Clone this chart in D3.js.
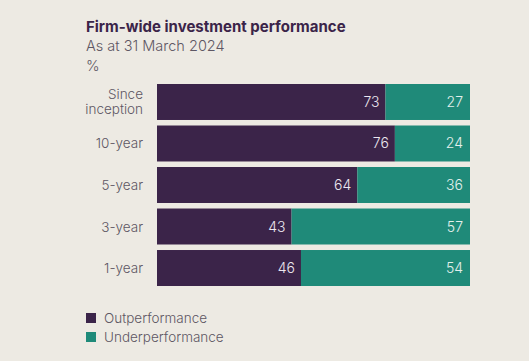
<!DOCTYPE html>
<html>
<head>
    <script src="https://d3js.org/d3.v7.min.js"></script>
    <style>
        body { margin: 0; background: #edeae3; }
        text { font-family: Inter, "Noto Sans", sans-serif; }
    </style>
</head>
<body>
    <script>
        // Data
        var categories = ["Since inception", "10-year", "5-year", "3-year", "1-year"];
        var outperformance = [73, 76, 64, 43, 46];
        var underperformance = [27, 24, 36, 57, 54];
        var seriesNames = ["Outperformance", "Underperformance"];
        var colors = ["#3b2449", "#1f8a79"];

        var width = 529, height = 361;

        var svg = d3.select("body")
            .append("svg")
            .attr("width", width)
            .attr("height", height);

        svg.append("rect")
            .attr("width", width)
            .attr("height", height)
            .attr("fill", "#edeae3");

        // Titles
        svg.append("text")
            .attr("x", 86).attr("y", 32)
            .style("font-size", "15px").style("font-weight", 700)
            .style("fill", "#3b2449")
            .text("Firm-wide investment performance");
        svg.append("text")
            .attr("x", 86).attr("y", 51)
            .style("font-size", "14.5px").style("font-weight", 300)
            .style("fill", "#5e5764")
            .text("As at 31 March 2024");
        svg.append("text")
            .attr("x", 86).attr("y", 71)
            .style("font-size", "14.5px").style("font-weight", 300)
            .style("fill", "#5e5764")
            .text("%");

        var x = d3.scaleLinear().domain([0, 100]).range([157, 470]);
        var y = d3.scaleBand().domain(categories).range([84, 286]).paddingInner(0.133).paddingOuter(0);

        var rows = svg.selectAll("g.row")
            .data(categories)
            .enter()
            .append("g")
            .attr("class", "row");

        rows.append("rect")
            .attr("x", x(0))
            .attr("y", function (d) { return y(d); })
            .attr("width", function (d, i) { return x(outperformance[i]) - x(0); })
            .attr("height", y.bandwidth())
            .attr("fill", colors[0]);

        rows.append("rect")
            .attr("x", function (d, i) { return x(outperformance[i]); })
            .attr("y", function (d) { return y(d); })
            .attr("width", function (d, i) { return x(outperformance[i] + underperformance[i]) - x(outperformance[i]); })
            .attr("height", y.bandwidth())
            .attr("fill", colors[1]);

        // value labels
        rows.append("text")
            .attr("x", function (d, i) { return x(outperformance[i]) - 6; })
            .attr("y", function (d) { return y(d) + y.bandwidth() / 2 + 5; })
            .attr("text-anchor", "end")
            .style("font-size", "14px").style("font-weight", 300)
            .style("fill", "#ece7ef")
            .text(function (d, i) { return outperformance[i]; });

        rows.append("text")
            .attr("x", x(100) - 7)
            .attr("y", function (d) { return y(d) + y.bandwidth() / 2 + 5; })
            .attr("text-anchor", "end")
            .style("font-size", "14px").style("font-weight", 300)
            .style("fill", "#e3f0ec")
            .text(function (d, i) { return underperformance[i]; });

        // category labels
        rows.append("text")
            .attr("text-anchor", "end")
            .style("font-size", "13.5px").style("font-weight", 300)
            .style("fill", "#5e5764")
            .each(function (d) {
                var t = d3.select(this);
                var cy = y(d) + y.bandwidth() / 2;
                var words = d == "Since inception" ? ["Since", "inception"] : [d];
                words.forEach(function (w, k) {
                    t.append("tspan")
                        .attr("x", 143)
                        .attr("y", cy + 5 + (k - (words.length - 1) / 2) * 15)
                        .text(w);
                });
            });

        // legend
        var legend = svg.selectAll("g.legend")
            .data(seriesNames)
            .enter()
            .append("g")
            .attr("class", "legend")
            .attr("transform", function (d, i) { return "translate(86," + (313 + i * 19) + ")"; });

        legend.append("rect")
            .attr("width", 10).attr("height", 10)
            .attr("fill", function (d, i) { return colors[i]; });

        legend.append("text")
            .attr("x", 18).attr("y", 10)
            .style("font-size", "13.5px").style("font-weight", 300)
            .style("fill", "#5e5764")
            .text(function (d) { return d; });
    </script>
</body>
</html>
